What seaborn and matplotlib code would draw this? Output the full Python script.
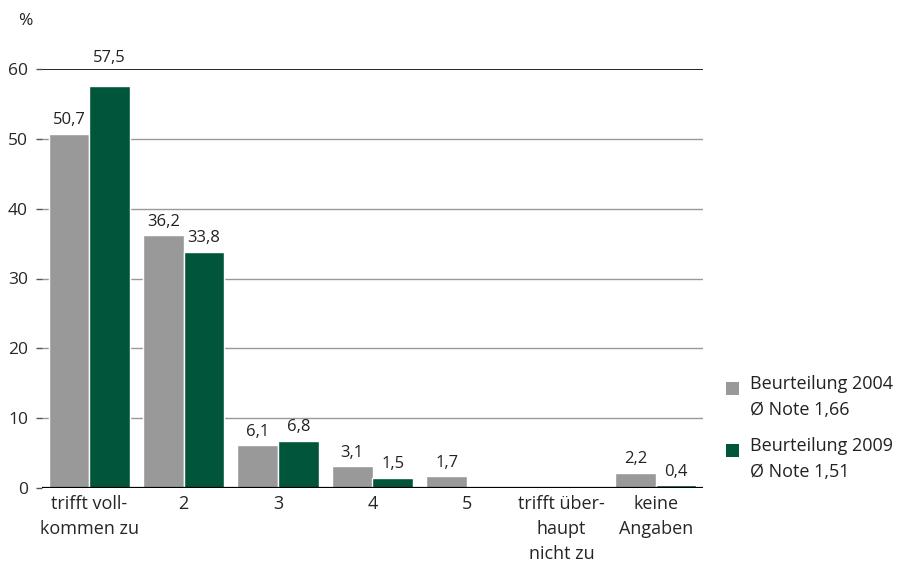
import matplotlib
matplotlib.use("Agg")
import matplotlib.pyplot as plt
import matplotlib.patches as mpatches
import seaborn as sns
import pandas as pd

categories = ["trifft voll-\nkommen zu", "2", "3", "4", "5",
              "trifft über-\nhaupt\nnicht zu", "keine\nAngaben"]
values_2004 = [50.7, 36.2, 6.1, 3.1, 1.7, None, 2.2]
values_2009 = [57.5, 33.8, 6.8, 1.5, None, None, 0.4]
series = ["Beurteilung 2004", "Beurteilung 2009"]
legend_lines = [["Beurteilung 2004", "Ø Note 1,66"],
                ["Beurteilung 2009", "Ø Note 1,51"]]
y_ticks = [0, 10, 20, 30, 40, 50, 60]

grey = "#999999"
green = "#00553A"

rows = []
for cat, a, b in zip(categories, values_2004, values_2009):
    if a is not None:
        rows.append({"cat": cat, "serie": series[0], "wert": a})
    if b is not None:
        rows.append({"cat": cat, "serie": series[1], "wert": b})
df = pd.DataFrame(rows)

sns.set_style("white")
plt.rcParams["font.family"] = ["Open Sans", "DejaVu Sans"]
plt.rcParams["text.color"] = "#222222"

W, H = 909, 569
fig = plt.figure(figsize=(W / 100, H / 100), dpi=100)
ax = fig.add_axes([42 / W, 1 - 488 / H, 661 / W, 419 / H])

# grid lines behind the bars
for t in y_ticks[1:-1]:
    ax.axhline(t, color="#999999", lw=1.0, zorder=0)
ax.axhline(60, color="black", lw=1.2, zorder=0)

sns.barplot(data=df, x="cat", y="wert", hue="serie", order=categories,
            hue_order=series, palette=[grey, green], width=0.86,
            edgecolor="white", linewidth=1.0, saturation=1, ax=ax,
            legend=False, zorder=2)

ax.axhline(0, color="black", lw=1.6, zorder=3)

for cont in ax.containers:
    labels = ax.bar_label(cont, fmt=lambda v: f"{v:.1f}".replace(".", ","),
                          padding=4, fontsize=12, color="#222222",
                          clip_on=False)
    # values close to the top line get their label lifted above it
    for bar, lab in zip(cont, labels):
        if bar.get_height() > 55:
            lab.xyann = (0, 15)

ax.set_ylim(0, 60)
ax.set_xlim(-0.5, len(categories) - 0.5)
ax.set_yticks(y_ticks)
ax.set_yticklabels([str(t) for t in y_ticks], fontsize=12.5)
ax.set_xlabel("")
ax.set_ylabel("")
ax.tick_params(axis="y", length=4, width=1, color="#555555", pad=6, left=True)
ax.tick_params(axis="x", length=0, pad=5, labelsize=13)
for lab in ax.get_xticklabels():
    lab.set_linespacing(1.5)
for s in ax.spines.values():
    s.set_visible(False)

fig.text(18 / W, 1 - 13 / H, "%", fontsize=12.5, va="top", ha="left")

# legend drawn by hand: colour square plus two text lines per entry
entry_tops = [382, 444]
for color, lines, top in zip([grey, green], legend_lines, entry_tops):
    fig.patches.append(mpatches.Rectangle(
        (726 / W, 1 - (top + 13) / H), 13 / W, 13 / H,
        transform=fig.transFigure, facecolor=color, edgecolor="none"))
    for i, line in enumerate(lines):
        fig.text(750 / W, 1 - (top + 7 + 26 * i) / H, line, fontsize=13,
                 va="baseline", ha="left")

fig.savefig("out.png", dpi=100)
